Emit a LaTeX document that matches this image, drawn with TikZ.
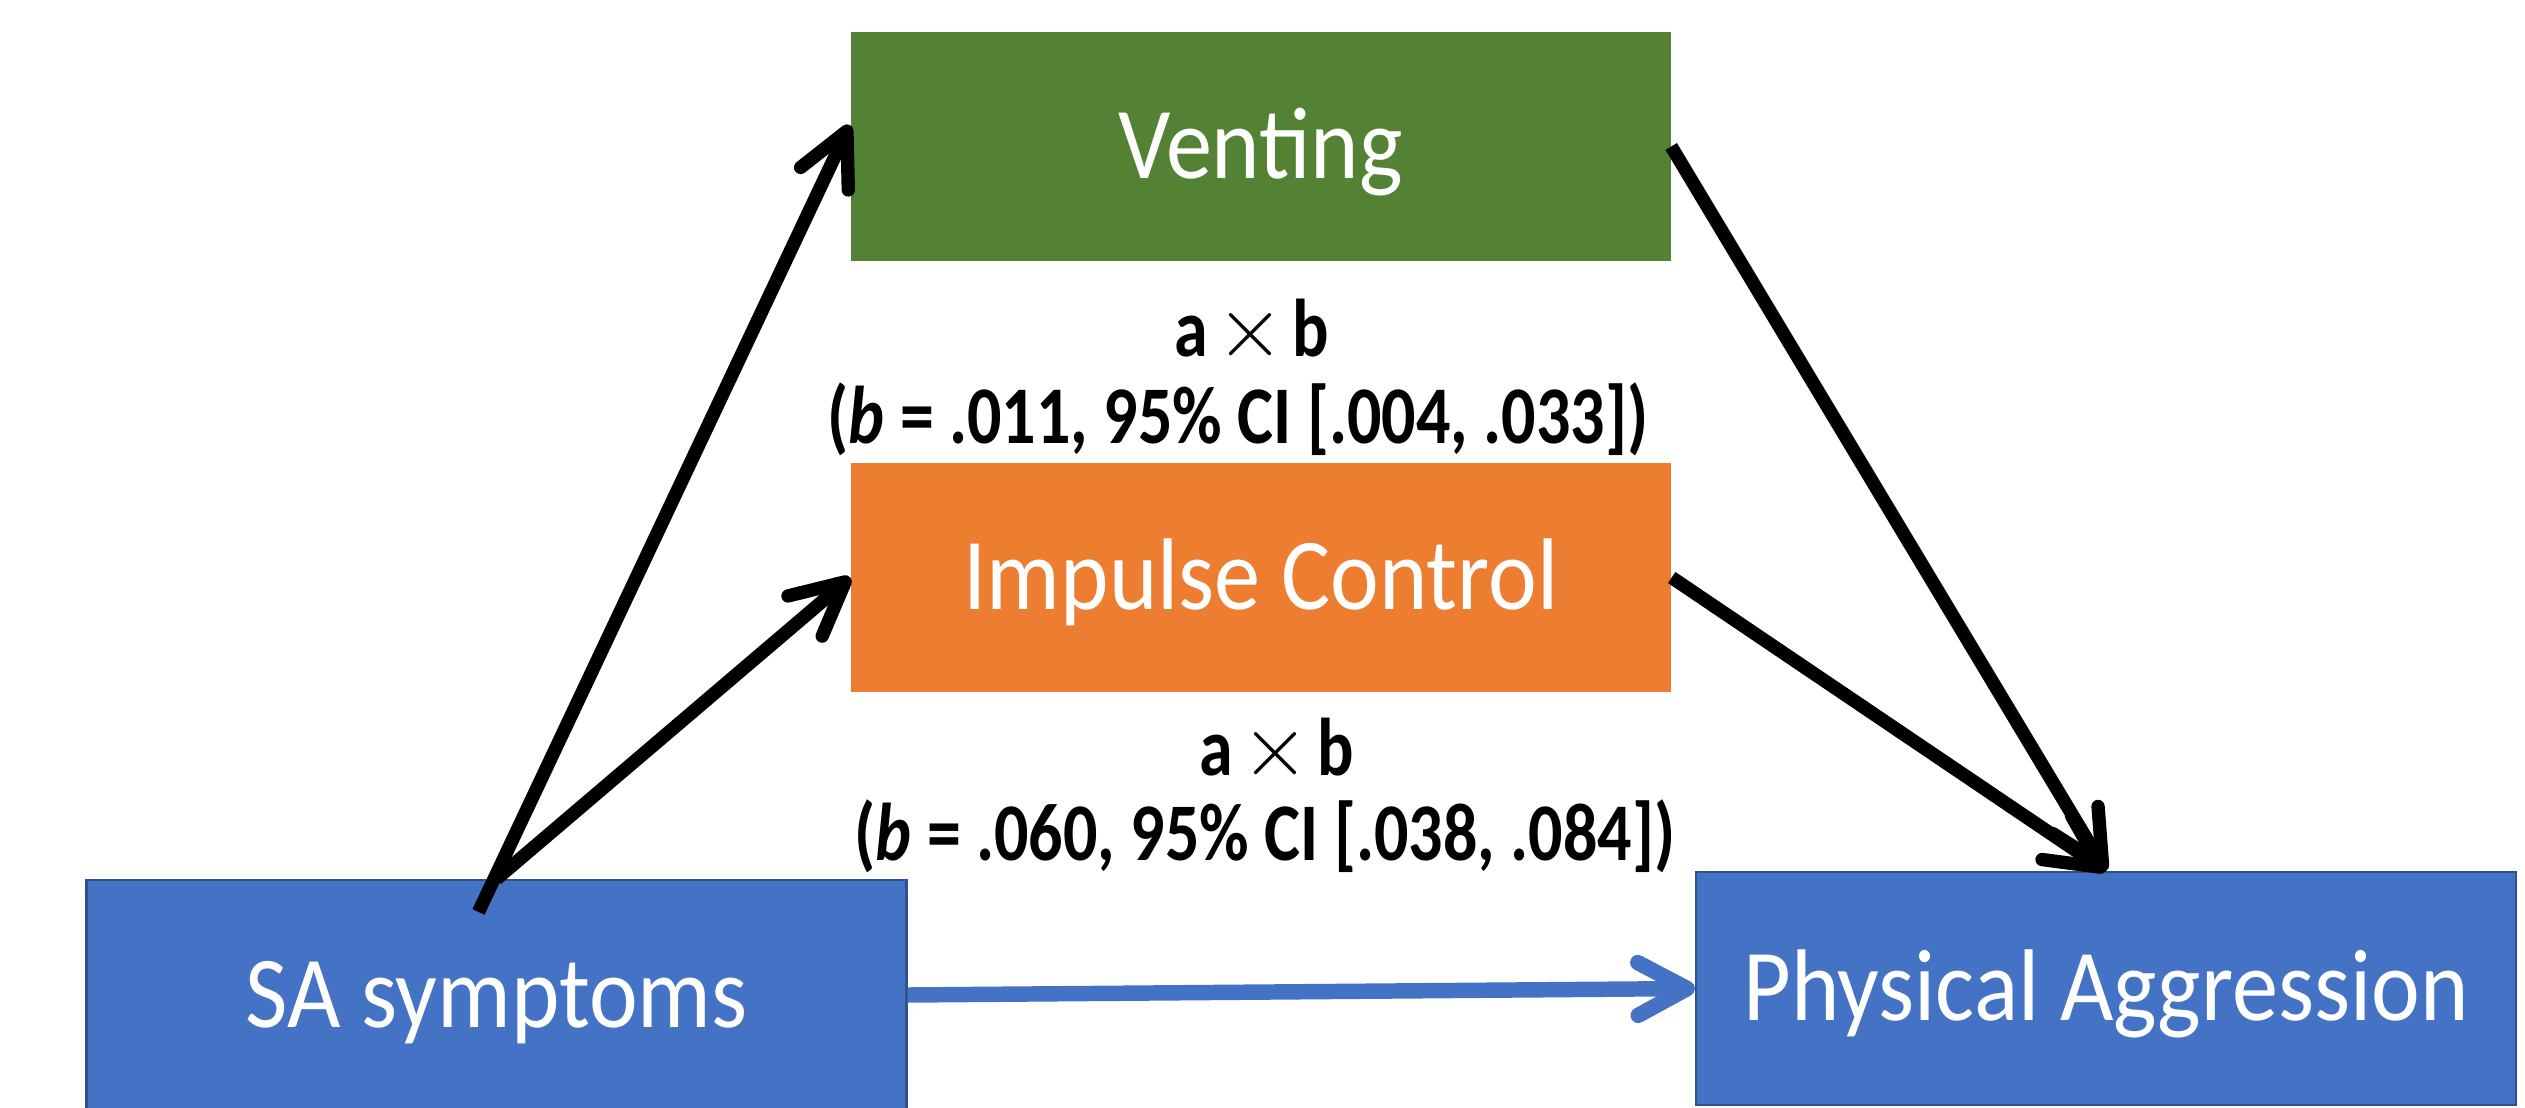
\documentclass[tikz,border=0pt]{standalone}
\usepackage{fontspec}
\setmainfont{Carlito}
\newfontfamily\boxfont[FakeStretch=0.905]{Carlito}
\newfontfamily\labelfont[FakeStretch=0.83]{Carlito}
\usepackage{xcolor}
\usepackage{tikz}
\usetikzlibrary{arrows.meta}

\definecolor{ventgreen}{HTML}{548235}
\definecolor{imporange}{HTML}{ED7D31}
\definecolor{pptblue}{HTML}{4472C4}
\definecolor{pptedge}{HTML}{2F528F}

\begin{document}
\begin{tikzpicture}[scale=1.0,
    box/.style={minimum width=8.2cm, minimum height=2.29cm, inner sep=0pt, text=white,
        text height=18.3pt, text depth=0pt, font=\boxfont\fontsize{29pt}{35pt}\selectfont},
    bluebox/.style={box, fill=pptblue, draw=pptedge, line width=0.6pt},
    lbl/.style={anchor=base, inner sep=0pt, font=\labelfont\bfseries\fontsize{23.3pt}{28pt}\selectfont},
    effect/.style={line width=3.8pt, -{Straight Barb[length=15pt,width=15pt,round]}},
    direct/.style={line width=4.4pt, pptblue, -{Straight Barb[length=14pt,width=15pt,round]}}]
    \useasboundingbox (0,0) rectangle (25.25,11.07);

    \node[box, fill=ventgreen] (vent) at (12.605,9.605) {Venting};
    \node[box, fill=imporange] (imp) at (12.61,5.295) {Impulse Control};
    \node[bluebox, minimum height=2.30cm] (sa) at (4.965,1.12) {SA symptoms};
    \node[bluebox, minimum height=2.33cm] (pa) at (21.06,1.185) {Physical Aggression};

    \node[lbl] (ab1) at (12.52,7.51) {a\kern0.1em$\times$\kern0.1em b};
    \node[lbl] (ci1) at (12.38,6.64) {(\textit{b} = .011, 95\% CI [.004, .033])};
    \node[lbl] (ab2) at (12.77,3.32) {a\kern0.1em$\times$\kern0.1em b};
    \node[lbl] (ci2) at (12.65,2.47) {(\textit{b} = .060, 95\% CI [.038, .084])};

    \draw[effect] ([xshift=-0.18cm,yshift=-0.33cm]sa.north) -- (vent.177);
    \draw[effect] (sa.north) -- (imp.west);
    \draw[effect] (vent.east) -- (pa.north);
    \draw[effect] (imp.east) -- (pa.north);
    \draw[direct] (sa.east) -- (pa.west);
\end{tikzpicture}
\end{document}
